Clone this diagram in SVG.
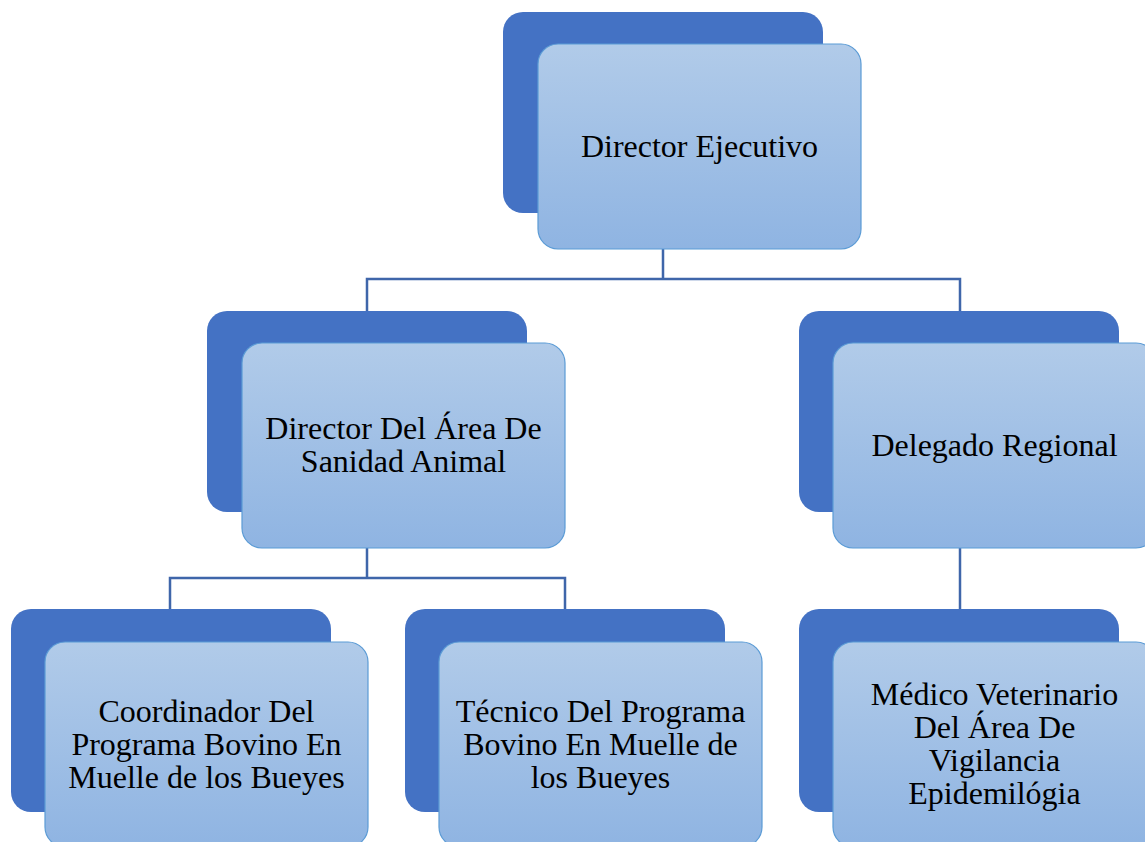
<svg xmlns="http://www.w3.org/2000/svg" width="1145" height="842" viewBox="0 0 1145 842">
<defs>
<linearGradient id="fg" x1="0" y1="0" x2="0" y2="1">
<stop offset="0" stop-color="#B1CBE9"/>
<stop offset="1" stop-color="#8FB4E2"/>
</linearGradient>
<style>
.back{fill:#4472C4;}
.front{fill:url(#fg);stroke:#5B9BD5;stroke-width:1.2;}
.t{font-family:"Liberation Serif","Times New Roman",serif;font-size:32px;fill:#000;text-anchor:middle;}
.c{fill:none;stroke:#3F66AA;stroke-width:2.5;}
</style>
</defs>
<rect width="1145" height="842" fill="#fff"/>
<g id="connectors">
<path class="c" d="M663 249V279M367 311V279H960V311"/>
<path class="c" d="M367 548V578M170 609V578H565V609"/>
<path class="c" d="M960 548V609"/>
</g>
<g id="n-director">
<rect class="back" x="503" y="12" width="320" height="201" rx="20"/>
<rect class="front" x="538" y="44" width="323" height="205" rx="20"/>
<text class="t" x="699.5" y="157">Director Ejecutivo</text>
</g>
<g id="n-sanidad">
<rect class="back" x="207" y="311" width="320" height="201" rx="20"/>
<rect class="front" x="242" y="343" width="323" height="205" rx="20"/>
<text class="t" x="403.5" y="439">Director Del Área De</text>
<text class="t" x="403.5" y="472">Sanidad Animal</text>
</g>
<g id="n-delegado">
<rect class="back" x="799" y="311" width="320" height="201" rx="20"/>
<rect class="front" x="833" y="343" width="323" height="205" rx="20"/>
<text class="t" x="994.5" y="456">Delegado Regional</text>
</g>
<g id="n-coordinador">
<rect class="back" x="11" y="609" width="320" height="203" rx="20"/>
<rect class="front" x="45" y="642" width="323" height="205" rx="20"/>
<text class="t" x="206.5" y="722">Coordinador Del</text>
<text class="t" x="206.5" y="755">Programa Bovino En</text>
<text class="t" x="206.5" y="788">Muelle de los Bueyes</text>
</g>
<g id="n-tecnico">
<rect class="back" x="405" y="609" width="320" height="203" rx="20"/>
<rect class="front" x="439" y="642" width="323" height="205" rx="20"/>
<text class="t" x="600.5" y="722">Técnico Del Programa</text>
<text class="t" x="600.5" y="755">Bovino En Muelle de</text>
<text class="t" x="600.5" y="788">los Bueyes</text>
</g>
<g id="n-medico">
<rect class="back" x="799" y="609" width="320" height="203" rx="20"/>
<rect class="front" x="833" y="642" width="323" height="205" rx="20"/>
<text class="t" x="994.5" y="705">Médico Veterinario</text>
<text class="t" x="994.5" y="738">Del Área De</text>
<text class="t" x="994.5" y="771">Vigilancia</text>
<text class="t" x="994.5" y="804">Epidemilógia</text>
</g>
</svg>
